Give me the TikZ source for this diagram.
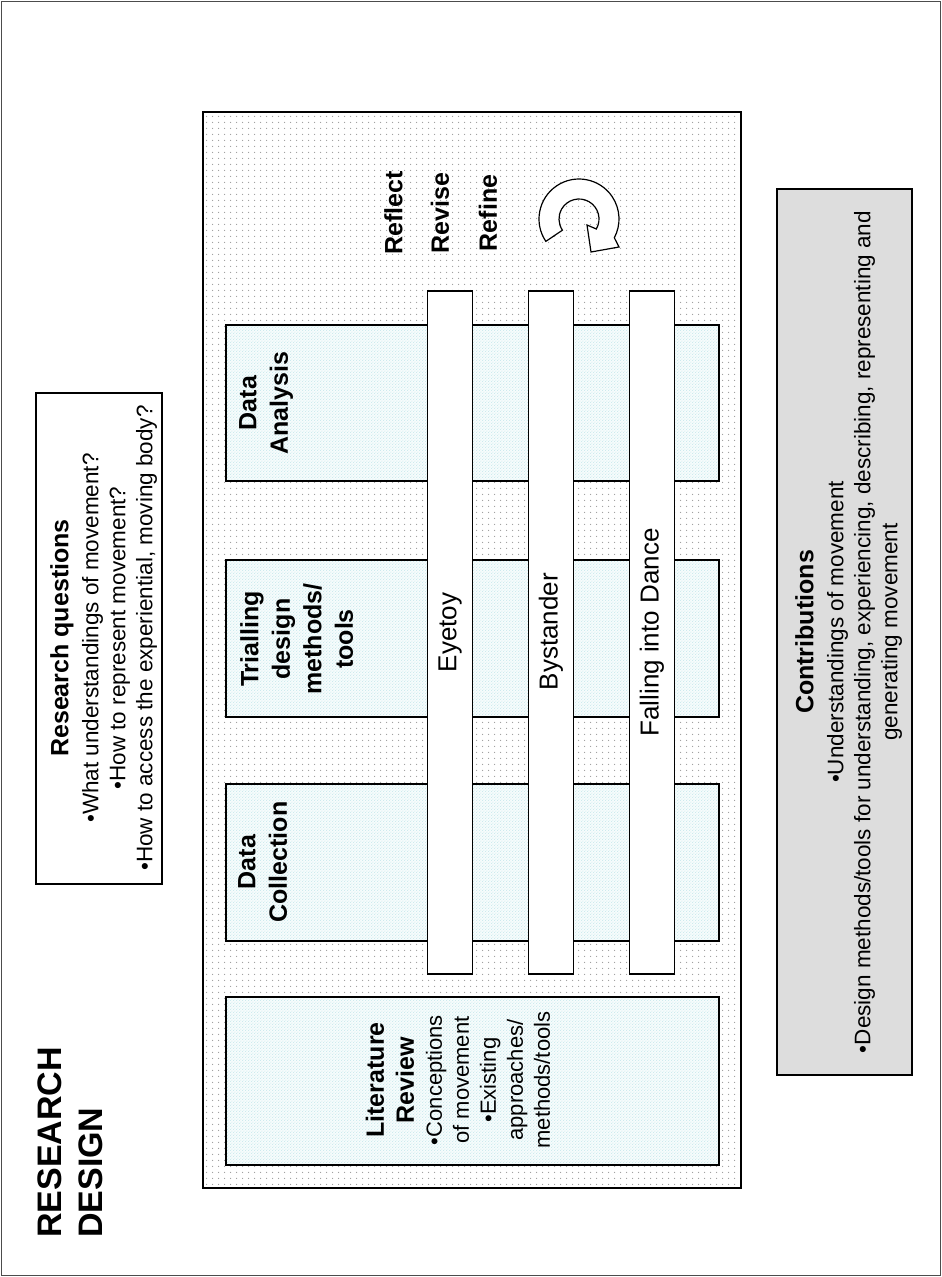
\documentclass[tikz,border=0pt]{standalone}
\usepackage{fontspec}
\setmainfont{Liberation Sans}
\usetikzlibrary{patterns.meta,calc}
\tikzdeclarepattern{
  name=graydots, type=uncolored,
  bottom left={(0pt,0pt)}, top right={(6pt,6pt)},
  tile size={(6pt,6pt)},
  code={\pgfpathcircle{\pgfpoint{3pt}{3pt}}{0.7pt}\pgfusepath{fill}}
}
\tikzdeclarepattern{
  name=cyandots, type=uncolored,
  bottom left={(0pt,0pt)}, top right={(3.2pt,3.2pt)},
  tile size={(3.2pt,3.2pt)},
  code={\pgfpathcircle{\pgfpoint{0.8pt}{0.8pt}}{0.55pt}\pgfpathcircle{\pgfpoint{2.4pt}{2.4pt}}{0.55pt}\pgfusepath{fill}}
}
\definecolor{dotgray}{gray}{0.6}
\definecolor{dotcyan}{RGB}{175,222,228}
\definecolor{cyanbg}{RGB}{246,252,252}
\definecolor{contribgray}{RGB}{221,221,221}
\begin{document}
\begin{tikzpicture}[x=1pt,y=-1pt,
  frame/.style={draw=black, line width=1.2pt, rectangle, inner sep=0pt, outer sep=0pt, anchor=north west},
  mainbox/.style={frame, preaction={fill=white}, pattern=graydots, pattern color=dotgray},
  stagebox/.style={frame, preaction={fill=cyanbg}, pattern=cyandots, pattern color=dotcyan},
  bar/.style={frame, fill=white},
  plainbox/.style={frame, fill=white},
  contribbox/.style={frame, fill=contribgray},
  vtext/.style={rotate=90, inner sep=0pt, align=center, font=\fontsize{22.5}{27}\selectfont},
  vbold/.style={rotate=90, inner sep=0pt, align=center, font=\fontsize{25}{31.5}\selectfont\bfseries},
  bartext/.style={rotate=90, inner sep=0pt, font=\fontsize{26}{30}\selectfont},
  cyclearrow/.style={draw=black, line width=1.2pt, fill=white, line join=miter}
]
\useasboundingbox (0,0) rectangle (942,1277);
\node[frame, draw=black!70, line width=1.5pt, fill=white, minimum width=939pt, minimum height=1274pt] (page) at (1.5,1.5) {};
\node[mainbox, minimum width=538pt, minimum height=1076pt] (main) at (203,112) {};
% side boxes
\node[plainbox, minimum width=126pt, minimum height=491pt] (rq) at (36,393) {};
\node[contribbox, minimum width=135pt, minimum height=886pt] (contrib) at (777,189) {};
% stage boxes
\node[stagebox, minimum width=493pt, minimum height=156pt] (analysis) at (226,325) {};
\node[stagebox, minimum width=493pt, minimum height=157pt] (trial) at (226,560) {};
\node[stagebox, minimum width=493pt, minimum height=157pt] (collect) at (226,784) {};
\node[stagebox, minimum width=493pt, minimum height=168pt] (lit) at (226,997) {};
% bars
\node[bar, minimum width=45pt, minimum height=683pt] (eyetoy) at (427.5,291) {};
\node[bar, minimum width=45pt, minimum height=683pt] (bystander) at (528.5,291) {};
\node[bar, minimum width=45pt, minimum height=683pt] (falling) at (629.5,291) {};
\node[bartext] (eyetoyT) at (450,632.5) {Eyetoy};
\node[bartext] (bystanderT) at (551,631.5) {Bystander};
\node[bartext] (fallingT) at (652,632.5) {Falling into Dance};
% stage labels
\node[vbold, anchor=north] (analysisT) at (239,403) {Data\\Analysis};
\node[vbold, anchor=north] (trialT) at (240,639) {Trialling\\design\\methods/\\tools};
\node[vbold, anchor=north] (collectT) at (238,862) {Data\\Collection};
\node[vtext, font=\fontsize{22}{27}\selectfont] (litT) at (458,1080) {{\fontsize{25}{27}\selectfont\bfseries Literature}\\[3pt]{\fontsize{25}{27}\selectfont\bfseries Review}\\[1pt]•Conceptions\\of movement\\•Existing\\approaches/\\methods/tools};
% reflect
\node[vbold] (reflectT) at (393.5,213) {Reflect};
\node[vbold] (reviseT) at (440,213) {Revise};
\node[vbold] (refineT) at (488,213) {Refine};
% research questions
\node[vtext, anchor=north] (rqT) at (50,638) {{\fontsize{25}{27}\selectfont\bfseries Research questions}\\[3pt]•What understandings of movement?\\•How to represent movement?\\•How to access the experiential, moving body?};
% contributions
\node[vtext, anchor=north] (contribT) at (795,632) {{\fontsize{25}{27}\selectfont\bfseries Contributions}\\[3pt]•Understandings of movement\\•Design methods/tools for understanding, experiencing, describing, representing and\\generating movement};
% title
\node[rotate=90, inner sep=0pt, align=left, anchor=north west, font=\fontsize{34}{41}\selectfont\bfseries] (title) at (38,1238) {RESEARCH\\DESIGN};
% cycle arrow
\coordinate (cyc) at (579,219);
\draw[cyclearrow] ($(cyc)+(146:40)$) arc[start angle=146, end angle=388, radius=40] -- (619,247) -- (591,252) -- (587,225) -- ($(cyc)+(30:20)$) arc[start angle=30, end angle=-214, radius=20] -- cycle;
\end{tikzpicture}
\end{document}
